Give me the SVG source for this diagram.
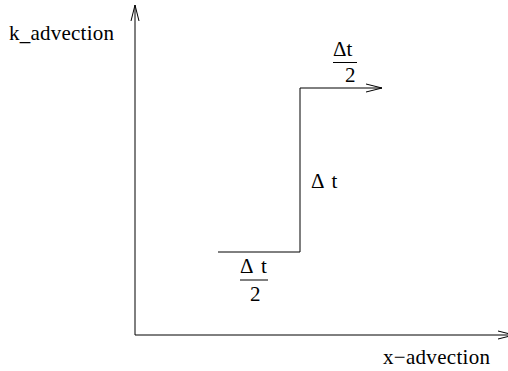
<svg xmlns="http://www.w3.org/2000/svg" width="508" height="371" viewBox="0 0 508 371">
<style>
.ln{stroke:#000;stroke-width:1;fill:none}
</style>
<defs>
<marker id="ah" markerWidth="18" markerHeight="10" refX="17" refY="5" orient="auto" markerUnits="userSpaceOnUse">
<path d="M1,1 L17,5 L1,9" fill="none" stroke="#000" stroke-width="1"/>
</marker>
</defs>
<rect width="508" height="371" fill="#fff"/>
<g id="connectors">
<line class="ln" x1="135" y1="335" x2="135" y2="5" marker-end="url(#ah)"/>
<line class="ln" x1="135" y1="335" x2="514" y2="335" marker-end="url(#ah)"/>
<polyline class="ln" points="218,252 300,252 300,88 382,88" marker-end="url(#ah)"/>
</g>
<g id="k_advection"><text x="9" y="39.5" font-family="Liberation Serif" font-size="21" textLength="105" lengthAdjust="spacing">k_advection</text></g>
<g id="x_advection"><text x="383" y="364" font-family="Liberation Serif" font-size="21" textLength="107" lengthAdjust="spacing">x−advection</text></g>
<g id="dt_mid"><text x="311" y="188" font-family="Liberation Serif" font-size="21">Δ<tspan dx="3"> t</tspan></text></g>
<g id="dt_half_top">
<text x="333" y="56" font-family="Liberation Serif" font-size="21">Δt</text>
<line class="ln" x1="333" y1="62.5" x2="357" y2="62.5"/>
<text x="345" y="82" font-family="Liberation Serif" font-size="21">2</text>
</g>
<g id="dt_half_bottom">
<text x="240" y="273" font-family="Liberation Serif" font-size="21">Δ<tspan dx="3.5"> t</tspan></text>
<line class="ln" x1="240" y1="280" x2="268" y2="280"/>
<text x="250" y="301" font-family="Liberation Serif" font-size="21">2</text>
</g>
</svg>
